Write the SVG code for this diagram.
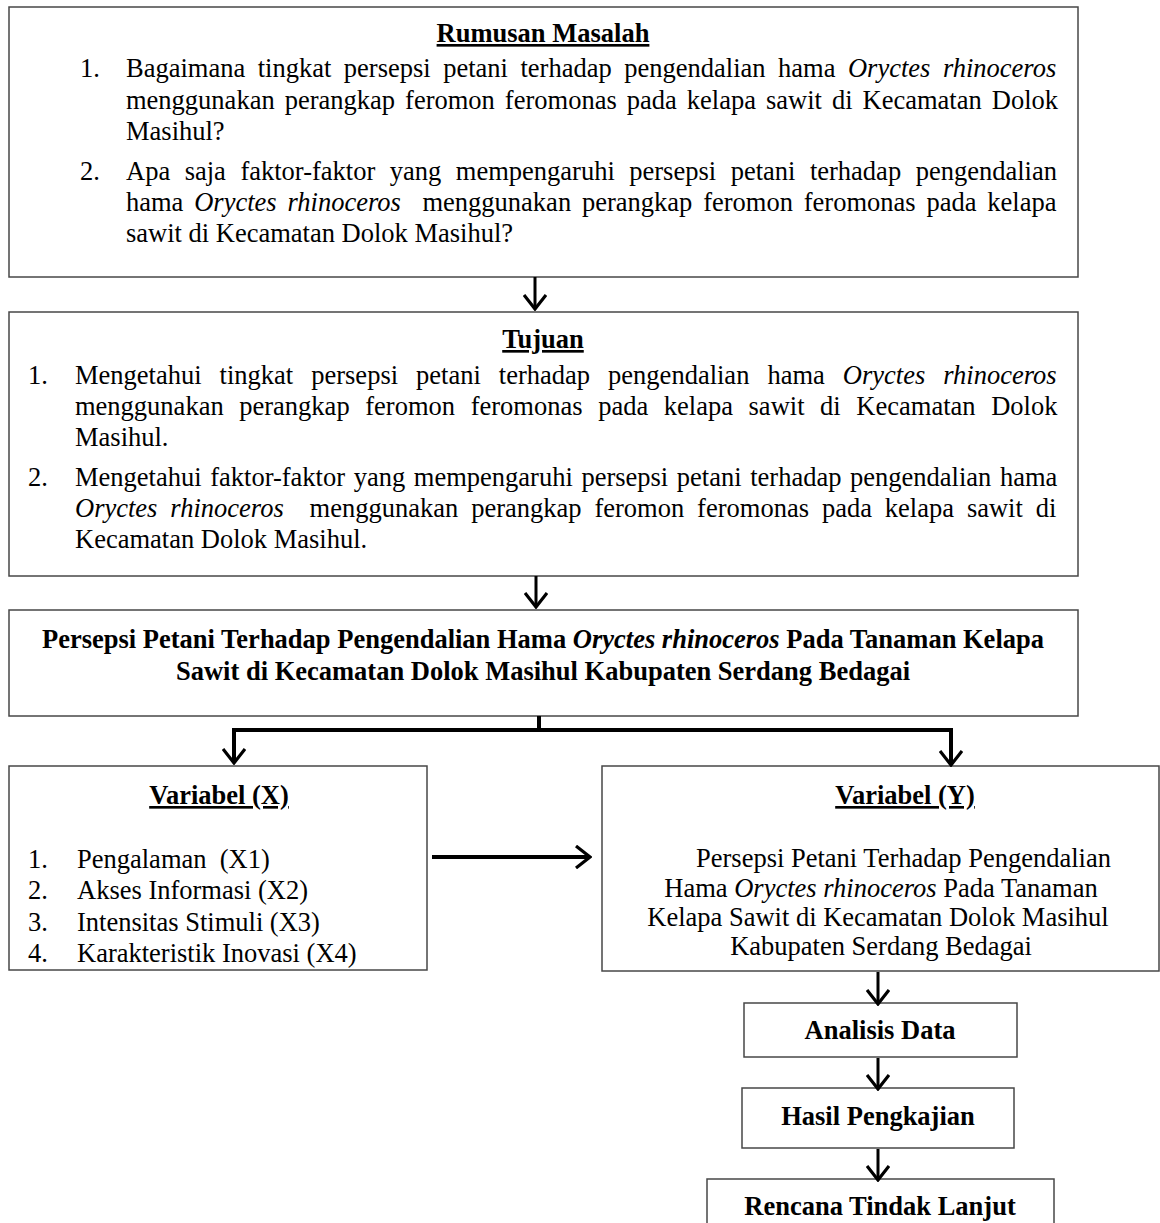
<svg xmlns="http://www.w3.org/2000/svg" width="1160" height="1223" viewBox="0 0 1160 1223">
<style>
.t{font-family:"Liberation Serif","Times New Roman",serif;font-size:26.5px;fill:#000;white-space:pre}
.b{font-weight:bold}
.i{font-style:italic}
.u{text-decoration:underline}
.m{text-anchor:middle}
.box{fill:#fff;stroke:#474747;stroke-width:1.5}
.c{stroke:#000;fill:none;stroke-width:3}
.ct{stroke:#000;fill:none;stroke-width:4}
</style>
<defs>
<marker id="arr" markerUnits="userSpaceOnUse" viewBox="0 0 17 24" refX="15" refY="12" markerWidth="17" markerHeight="24" orient="auto">
<path d="M1,1 L15,12 L1,23" fill="none" stroke="#000" stroke-width="3.2"/>
</marker>
</defs>
<rect width="1160" height="1223" fill="#fff"/>

<g id="rumusan">
<rect class="box" x="9" y="7" width="1069" height="270"/>
<text class="t b u m" x="543" y="42">Rumusan Masalah</text>
<text class="t" x="80" y="77">1.</text>
<text class="t" x="126" y="77" word-spacing="5.9">Bagaimana tingkat persepsi petani terhadap pengendalian hama <tspan class="i">Oryctes rhinoceros</tspan></text>
<text class="t" x="126" y="109" word-spacing="3.4">menggunakan perangkap feromon feromonas pada kelapa sawit di Kecamatan Dolok</text>
<text class="t" x="126" y="140">Masihul?</text>
<text class="t" x="80" y="180">2.</text>
<text class="t" x="126" y="180" word-spacing="7.9">Apa saja faktor-faktor yang mempengaruhi persepsi petani terhadap pengendalian</text>
<text class="t" x="126" y="211" word-spacing="4.2">hama <tspan class="i">Oryctes rhinoceros</tspan>  menggunakan perangkap feromon feromonas pada kelapa</text>
<text class="t" x="126" y="242">sawit di Kecamatan Dolok Masihul?</text>
</g>

<g id="tujuan">
<rect class="box" x="9" y="312" width="1069" height="264"/>
<text class="t b u m" x="543" y="348">Tujuan</text>
<text class="t" x="28" y="384">1.</text>
<text class="t" x="75" y="384" word-spacing="11.4">Mengetahui tingkat persepsi petani terhadap pengendalian hama <tspan class="i">Oryctes rhinoceros</tspan></text>
<text class="t" x="75" y="415" word-spacing="9">menggunakan perangkap feromon feromonas pada kelapa sawit di Kecamatan Dolok</text>
<text class="t" x="75" y="446">Masihul.</text>
<text class="t" x="28" y="486">2.</text>
<text class="t" x="75" y="486" word-spacing="2">Mengetahui faktor-faktor yang mempengaruhi persepsi petani terhadap pengendalian hama</text>
<text class="t" x="75" y="517" word-spacing="6.3"><tspan class="i">Oryctes rhinoceros</tspan>  menggunakan perangkap feromon feromonas pada kelapa sawit di</text>
<text class="t" x="75" y="548">Kecamatan Dolok Masihul.</text>
</g>

<g id="judul">
<rect class="box" x="9" y="610" width="1069" height="106"/>
<text class="t b m" x="543" y="648">Persepsi Petani Terhadap Pengendalian Hama <tspan class="i">Oryctes rhinoceros</tspan> Pada Tanaman Kelapa</text>
<text class="t b m" x="543" y="680">Sawit di Kecamatan Dolok Masihul Kabupaten Serdang Bedagai</text>
</g>

<g id="variabel-x">
<rect class="box" x="9" y="766" width="418" height="204"/>
<text class="t b u m" x="219" y="804">Variabel (X)</text>
<text class="t" x="28" y="868">1.</text>
<text class="t" x="77" y="868">Pengalaman  (X1)</text>
<text class="t" x="28" y="899">2.</text>
<text class="t" x="77" y="899">Akses Informasi (X2)</text>
<text class="t" x="28" y="931">3.</text>
<text class="t" x="77" y="931">Intensitas Stimuli (X3)</text>
<text class="t" x="28" y="962">4.</text>
<text class="t" x="77" y="962">Karakteristik Inovasi (X4)</text>
</g>

<g id="variabel-y">
<rect class="box" x="602" y="766" width="557" height="205"/>
<text class="t b u m" x="905" y="804">Variabel (Y)</text>
<text class="t" x="696" y="867">Persepsi Petani Terhadap Pengendalian</text>
<text class="t m" x="881" y="897">Hama <tspan class="i">Oryctes rhinoceros</tspan> Pada Tanaman</text>
<text class="t m" x="878" y="926">Kelapa Sawit di Kecamatan Dolok Masihul</text>
<text class="t m" x="881" y="955">Kabupaten Serdang Bedagai</text>
</g>

<g id="analisis">
<rect class="box" x="744" y="1003" width="273" height="54"/>
<text class="t b m" x="880" y="1039">Analisis Data</text>
</g>

<g id="hasil">
<rect class="box" x="742" y="1088" width="272" height="60"/>
<text class="t b m" x="878" y="1125">Hasil Pengkajian</text>
</g>

<g id="rencana">
<rect class="box" x="707" y="1179" width="347" height="70"/>
<text class="t b m" x="880" y="1215">Rencana Tindak Lanjut</text>
</g>

<g id="connectors">
<line class="c" x1="535" y1="277" x2="535" y2="309" marker-end="url(#arr)"/>
<line class="c" x1="536" y1="576" x2="536" y2="607" marker-end="url(#arr)"/>
<line class="ct" x1="539" y1="716" x2="539" y2="730"/>
<polyline class="ct" points="234,762 234,730 951,730 951,764"/>
<line class="c" x1="234" y1="740" x2="234" y2="763" marker-end="url(#arr)"/>
<line class="c" x1="951" y1="740" x2="951" y2="765" marker-end="url(#arr)"/>
<line class="ct" x1="432" y1="857" x2="590" y2="857" marker-end="url(#arr)"/>
<line class="c" x1="878" y1="972" x2="878" y2="1004" marker-end="url(#arr)"/>
<line class="c" x1="878" y1="1058" x2="878" y2="1089" marker-end="url(#arr)"/>
<line class="c" x1="878" y1="1149" x2="878" y2="1180" marker-end="url(#arr)"/>
</g>
</svg>
